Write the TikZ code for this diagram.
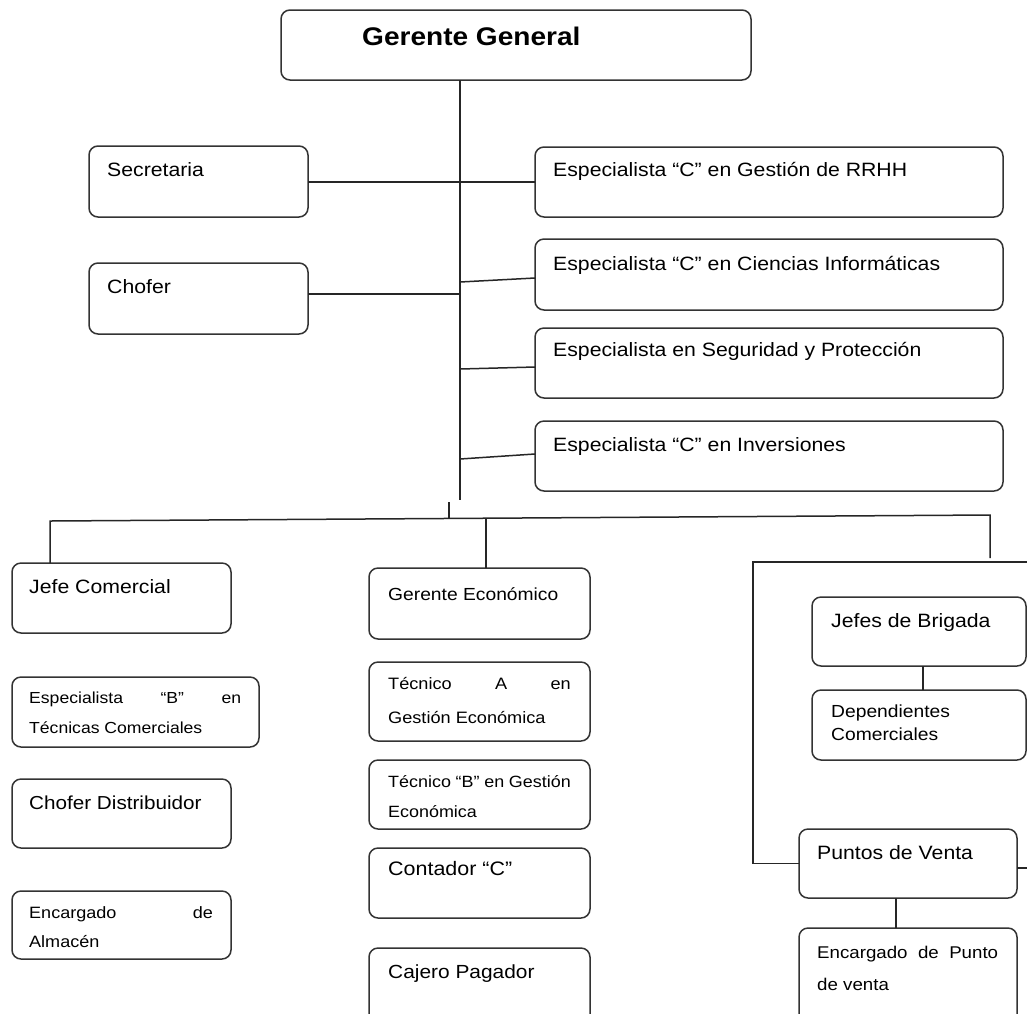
\documentclass[tikz,border=0pt]{standalone}
\usepackage{fontspec}
\setmainfont{Liberation Sans}
% horizontally widened text, as set in the chart
\newcommand\wide[1]{\scalebox{1.1}[1]{#1}}
% two stacked lines with a given baseline distance; first baseline is the node base
\newcommand\twolines[3]{\vtop{\baselineskip=#1\relax\hbox{#2}\hbox{#3}}}
\newcommand\just[2]{\makebox[#1][s]{#2}}
\begin{document}
\begin{tikzpicture}[x=1pt,y=-1pt,
  box/.style={draw=black!80, line width=1.5pt, rounded corners=9pt,
    inner sep=0pt, outer sep=0pt, anchor=north west, fill=white},
  lbl/.style={inner sep=0pt, anchor=base west, text=black,
    font=\fontsize{19.3}{23}\selectfont},
  wire/.style={draw=black!85, line width=1.5pt}]
\useasboundingbox (0,0) rectangle (1027,1013);
\fill[white] (0,0) rectangle (1027,1013);
\clip (0,0) rectangle (1027,1013);

% ---- boxes ----
\node[box, minimum width=470pt, minimum height=70pt] (gg)   at (281,10)  {};
\node[box, minimum width=219pt, minimum height=71pt] (sec)  at (89,146)  {};
\node[box, minimum width=219pt, minimum height=71pt] (cho)  at (89,263)  {};
\node[box, minimum width=468pt, minimum height=70pt] (rrhh) at (535,147) {};
\node[box, minimum width=468pt, minimum height=71pt] (cie)  at (535,239) {};
\node[box, minimum width=468pt, minimum height=70pt] (seg)  at (535,328) {};
\node[box, minimum width=468pt, minimum height=70pt] (inv)  at (535,421) {};

\node[box, minimum width=219pt, minimum height=70pt] (jc)   at (12,563)  {};
\node[box, minimum width=247pt, minimum height=70pt] (espb) at (12,677)  {};
\node[box, minimum width=219pt, minimum height=69pt] (chd)  at (12,779)  {};
\node[box, minimum width=219pt, minimum height=68pt] (alm)  at (12,891)  {};

\node[box, minimum width=221pt, minimum height=71pt] (ge)   at (369,568) {};
\node[box, minimum width=221pt, minimum height=79pt] (tca)  at (369,662) {};
\node[box, minimum width=221pt, minimum height=69pt] (tcb)  at (369,760) {};
\node[box, minimum width=221pt, minimum height=70pt] (cont) at (369,848) {};
\node[box, minimum width=221pt, minimum height=92pt] (caj)  at (369,948) {};

\node[box, minimum width=214pt, minimum height=69pt] (jb)   at (812,597) {};
\node[box, minimum width=214pt, minimum height=70pt] (dc)   at (812,690) {};
\node[box, minimum width=218pt, minimum height=69pt] (pv)   at (799,829) {};
\node[box, minimum width=218pt, minimum height=112pt] (ep)  at (799,928) {};

% ---- labels ----
\node[lbl, font=\fontsize{25.5}{30}\selectfont\bfseries] (gg-t) at (362,45) {\wide{Gerente General}};
\node[lbl] (sec-t)  at (107,176) {\wide{Secretaria}};
\node[lbl] (cho-t)  at (107,293) {\wide{Chofer}};
\node[lbl] (rrhh-t) at (553,176) {\wide{Especialista “C” en Gestión de RRHH}};
\node[lbl] (cie-t)  at (553,270) {\wide{Especialista “C” en Ciencias Informáticas}};
\node[lbl] (seg-t)  at (553,356) {\wide{Especialista en Seguridad y Protección}};
\node[lbl] (inv-t)  at (553,451) {\wide{Especialista “C” en Inversiones}};

\node[lbl] (jc-t)   at (29,593) {\wide{Jefe Comercial}};
\node[lbl, font=\fontsize{16}{19}\selectfont] (espb-t) at (29,703)
  {\wide{\twolines{30pt}{\just{192.7pt}{Especialista “B” en}}{Técnicas Comerciales}}};
\node[lbl, font=\fontsize{18.8}{22}\selectfont] (chd-t) at (29,809) {\wide{Chofer Distribuidor}};
\node[lbl, font=\fontsize{16.4}{19}\selectfont] (alm-t) at (29,918)
  {\wide{\twolines{29pt}{\just{167pt}{Encargado de}}{Almacén}}};

\node[lbl, font=\fontsize{17.5}{21}\selectfont] (ge-t) at (388,600) {\wide{Gerente Económico}};
\node[lbl, font=\fontsize{16.5}{20}\selectfont] (tca-t) at (388,689)
  {\wide{\twolines{34pt}{\just{166pt}{Técnico A en}}{Gestión Económica}}};
\node[lbl, font=\fontsize{16.3}{20}\selectfont] (tcb-t) at (388,787)
  {\wide{\twolines{30pt}{\just{166pt}{Técnico “B” en Gestión}}{Económica}}};
\node[lbl, font=\fontsize{19.5}{23}\selectfont] (cont-t) at (388,875) {\wide{Contador “C”}};
\node[lbl, font=\fontsize{19}{23}\selectfont] (caj-t) at (388,978) {\wide{Cajero Pagador}};

\node[lbl] (jb-t) at (831,627) {\wide{Jefes de Brigada}};
\node[lbl, font=\fontsize{17.5}{21}\selectfont] (dc-t) at (831,717)
  {\wide{\twolines{23pt}{Dependientes}{Comerciales}}};
\node[lbl] (pv-t) at (817,859) {\wide{Puntos de Venta}};
\node[lbl, font=\fontsize{17}{20}\selectfont] (ep-t) at (817,958)
  {\wide{\twolines{32pt}{\just{164.5pt}{Encargado de Punto}}{de venta}}};

% ---- trunk under the general manager ----
\coordinate (tEnd) at (460,500);
\coordinate (tCho) at (460,294);
\coordinate (tCie) at (460,282);
\coordinate (tSeg) at (460,369);
\coordinate (tInv) at (460,459);
\draw[wire] (gg.south -| tEnd) -- (tEnd);
\draw[wire] (sec.east |- rrhh.west) -- (rrhh.west);
\draw[wire] (cho.east |- tCho) -- (tCho);
\draw[wire] (tCie) -- ([yshift=-3.5pt]cie.west);
\draw[wire] (tSeg) -- ([yshift=-4pt]seg.west);
\draw[wire] (tInv) -- ([yshift=2pt]inv.west);

% ---- lower bus ----
\coordinate (stubTop) at (449,502);
\coordinate (stubBot) at (449,518.5);
\coordinate (busL) at (50,521);
\coordinate (busR) at (990,515);
\coordinate (busG) at (486,518);
\coordinate (rEnd) at (990,558);
\draw[wire] (stubTop) -- (stubBot);
\draw[wire] (busL |- jc.north) -- (busL) -- (busR) -- (rEnd);
\draw[wire] (busG) -- (busG |- ge.north);

% ---- sales-point frame ----
\coordinate (frTL) at (753,562);
\coordinate (frTR) at (1040,562);
\coordinate (frR) at (1040,868);
\draw[wire] (frTR) -- (frTL) -- (frTL |- pv.west) -- (pv.west);
\draw[wire] ([yshift=-4.5pt]pv.east) -- (frR);
\draw[wire] ([xshift=4pt]jb.south) -- ([xshift=4pt]jb.south |- dc.north);
\draw[wire] ([xshift=-12pt]pv.south) -- ([xshift=-12pt]pv.south |- ep.north);
\end{tikzpicture}
\end{document}
